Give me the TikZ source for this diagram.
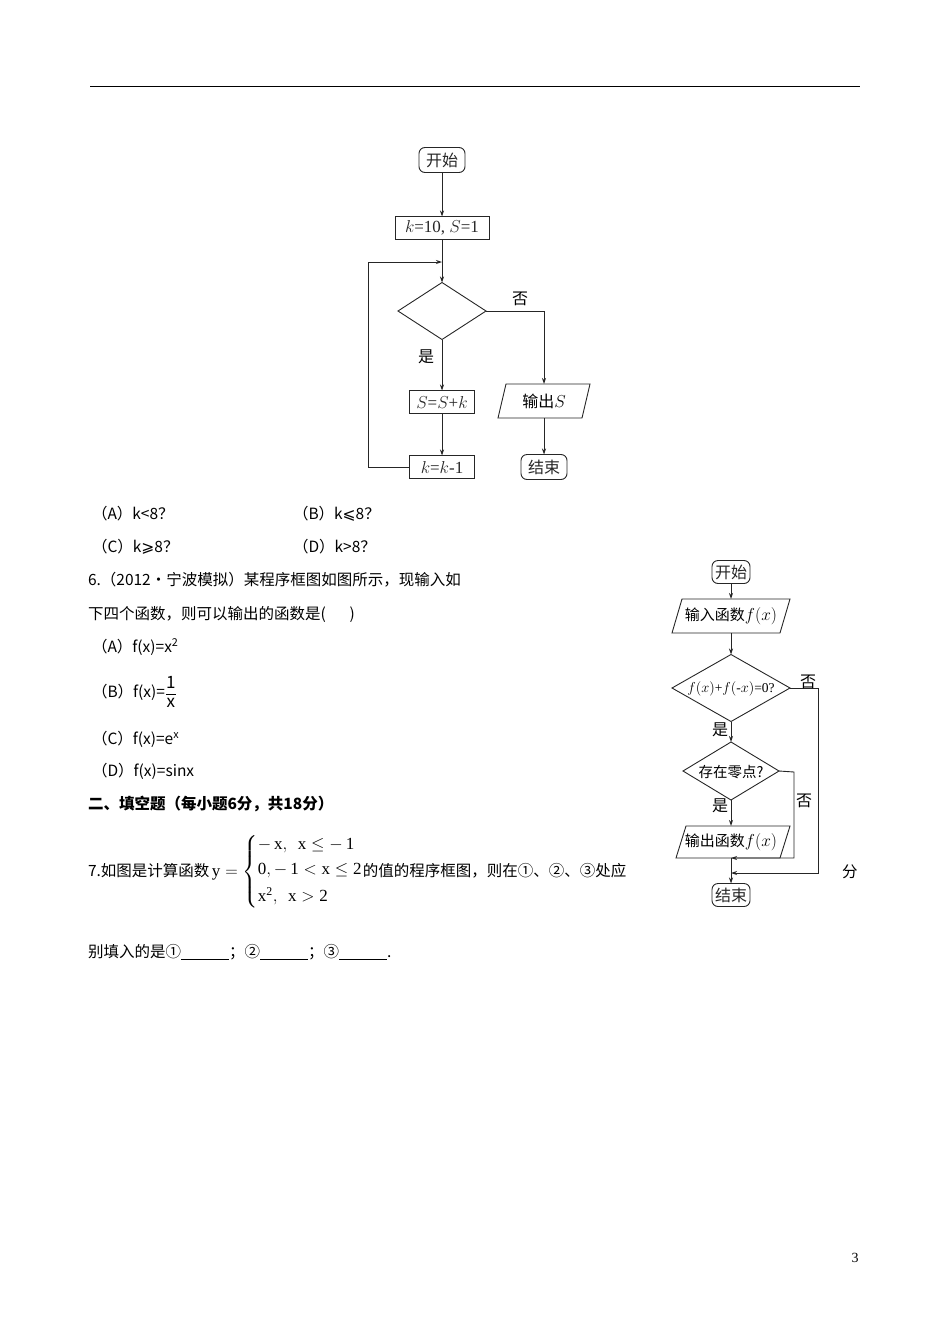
\documentclass[tikz,border=0pt]{standalone}
\usepackage{fontspec}
\usepackage{amsmath}
\setmainfont{Liberation Serif}
\newfontfamily\cjk{Noto Sans CJK SC}
\newfontfamily\dv{DejaVu Sans}
\usetikzlibrary{shapes.geometric,arrows.meta}
\begin{document}
\begin{tikzpicture}[x=1pt,y=-1pt,
  every node/.style={inner sep=0pt,outer sep=0pt},
  ln/.style={line width=0.9pt,black!85},
  ar/.style={ln,-{Stealth[length=6pt,width=4pt]}},
  rbox/.style={draw,ln,rounded corners=6pt,font=\cjk\fontsize{16}{16}\selectfont},
  bbox/.style={draw,ln,font=\fontsize{17}{17}\selectfont},
  lbl/.style={font=\cjk\fontsize{16}{16}\selectfont},
  txt/.style={anchor=west,font=\cjk\fontsize{15.5}{16}\selectfont}]
\useasboundingbox (0,0) rectangle (950,1344);
\draw[line width=1pt] (90,86) -- (860,86);
% flowchart 1
\node[rbox,minimum width=46,minimum height=25] (s1) at (442,160) {开始};
\node[bbox,minimum width=94,minimum height=23] (b1) at (442,228) {$k$=10, $S$=1};
\coordinate (j1) at (442,262);
\node[draw,ln,diamond,minimum width=88,minimum height=57,aspect=1.55] (d1) at (442,311) {};
\node[bbox,minimum width=65,minimum height=23] (b2) at (442,402) {$S$=$S$+$k$};
\node[bbox,minimum width=65,minimum height=23] (b3) at (442,467) {$k$=$k$-1};
\node[minimum width=76,minimum height=34,font=\cjk\fontsize{16}{16}\selectfont] (o1) at (544,401) {输出\fontsize{17}{17}\selectfont$S$};
\draw[ln] (506,384) -- (590,384) -- (582,418) -- (498,418) -- cycle;
\node[rbox,minimum width=46,minimum height=25] (e1) at (544,467) {结束};
\draw[ar] (s1) -- (b1);
\draw[ar] (b1) -- (d1.north);
\draw[ar] (d1.south) -- (b2);
\draw[ar] (b2) -- (b3);
\draw[ar] (b3.west) -- (368,467) -- (368,262) -- (j1);
\draw[ar] (d1.east) -- (544,311) -- (o1.north);
\draw[ar] (o1) -- (e1);
\node[lbl] at (520,299) {否};
\node[lbl] at (426,357) {是};
% choices
\node[txt] at (92,514) {（A）k<8？};
\node[txt] at (293,514) {（B）k{\dv ⩽}8？};
\node[txt] at (92,547) {（C）k{\dv ⩾}8？};
\node[txt] at (293,547) {（D）k>8？};
\node[txt] at (88,580) {6.（2012・宁波模拟）某程序框图如图所示，现输入如};
\node[txt] at (88,614) {下四个函数，则可以输出的函数是(\hspace{24pt})};
\node[txt] at (92,647) {（A）f(x)=x\textsuperscript{2}};
\node[txt] at (92,692) {（B）f(x)=\raisebox{-1pt}{$\dfrac{\text{\fontsize{17}{17}\selectfont 1}}{\text{\fontsize{17}{17}\selectfont x}}$}};
\node[txt] at (92,739) {（C）f(x)=e\textsuperscript{x}};
\node[txt] at (92,771) {（D）f(x)=sinx};
\node[txt,font=\cjk\bfseries\fontsize{15.5}{16}\selectfont] at (88,804) {二、填空题（每小题6分，共18分）};
\node[txt] (q7) at (88,872) {7.如图是计算函数\,{\fontsize{17}{17}\selectfont$\mathrm{y}=\left\{\begin{array}{@{}l@{}}\mathrm{-\,x,\ \ x\le -\,1}\\[8pt] \mathrm{0,-\,1<x\le 2}\\[8pt] \mathrm{x^{2},\ \ x>2}\end{array}\right.$}的值的程序框图，则在①、②、③处应};
\node[txt] at (842,872) {分};
\node[txt] at (88,952) {别填入的是①\underline{\hspace{48pt}}；②\underline{\hspace{48pt}}；③\underline{\hspace{48pt}}.};
% flowchart 2
\node[rbox,minimum width=38,minimum height=23] (s2) at (731,572) {开始};
\node[minimum width=100,minimum height=34,font=\cjk\fontsize{15}{15}\selectfont] (i2) at (731,616) {输入函数\fontsize{16}{16}\selectfont$f(x)$};
\draw[ln] (682,599) -- (790,599) -- (780,633) -- (672,633) -- cycle;
\node[draw,ln,diamond,minimum width=118,minimum height=67,aspect=1.76] (d2) at (731,688) {};
\node[font=\fontsize{13.5}{13.5}\selectfont] at (731,689) {$f(x)$+$f(\text{-}x)$=0?};
\node[draw,ln,diamond,minimum width=96,minimum height=58,aspect=1.66] (d3) at (731,771) {};
\node[font=\cjk\fontsize{14.5}{14.5}\selectfont] at (731,772) {存在零点?};
\node[minimum width=100,minimum height=32,font=\cjk\fontsize{15}{15}\selectfont] (o2) at (731,842) {输出函数\fontsize{16}{16}\selectfont$f(x)$};
\draw[ln] (686,826) -- (790,826) -- (780,858) -- (676,858) -- cycle;
\node[rbox,minimum width=38,minimum height=23] (e2) at (731,895) {结束};
\coordinate (m1) at (731,858);
\coordinate (m2) at (731,873);
\draw[ar] (s2) -- (i2);
\draw[ar] (i2) -- (d2.north);
\draw[ar] (d2.south) -- (d3.north);
\draw[ar] (d3.south) -- (o2);
\draw[ar] (o2.south) -- (e2);
\draw[ar] (d3.east) -- (794,772) -- (794,858) -- (m1);
\draw[ar] (d2.east) -- (818,688) -- (818,873) -- (m2);
\node[lbl] at (808,682) {否};
\node[lbl] at (804,801) {否};
\node[lbl] at (720,730) {是};
\node[lbl] at (720,806) {是};
\node[font=\fontsize{14}{14}\selectfont] at (855,1258) {3};
\end{tikzpicture}
\end{document}
